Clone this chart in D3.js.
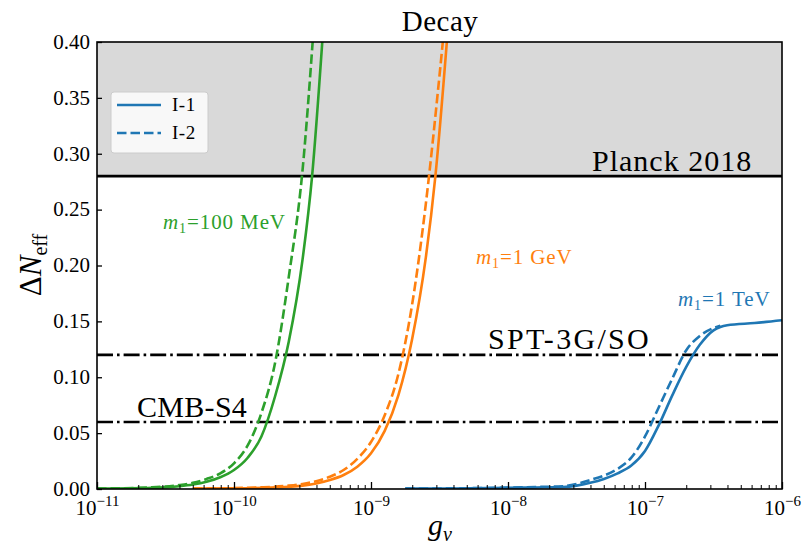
<!DOCTYPE html>
<html>
<head>
<meta charset="utf-8">
<script src="https://cdn.jsdelivr.net/npm/d3@7/dist/d3.min.js"></script>
<style>
  html, body { margin: 0; padding: 0; background: #fff; }
  svg { display: block; }
  text { font-family: "Liberation Serif", "Times New Roman", serif; fill: #000; }
</style>
</head>
<body>
<svg id="chart" width="805" height="549"></svg>
<script>
// log10(g_nu) sample points and Delta N_eff values for each mass / scenario
const greenLogG   = [-11.0, -10.6, -10.4, -10.3, -10.2, -10.1, -10.0, -9.9, -9.8, -9.7, -9.6, -9.5, -9.43, -9.35];
const greenI1     = [0.0003, 0.001, 0.0025, 0.004, 0.0065, 0.0105, 0.017, 0.028, 0.047, 0.083, 0.132, 0.205, 0.28, 0.41];
const greenLogG2  = [-11.0, -10.6, -10.4, -10.3, -10.2, -10.1, -10.0, -9.9, -9.8, -9.7, -9.6, -9.5, -9.42];
const greenI2     = [0.0004, 0.0015, 0.0035, 0.0055, 0.009, 0.014, 0.023, 0.039, 0.068, 0.113, 0.19, 0.285, 0.41];

const orangeLogG  = [-10.3, -10.0, -9.8, -9.6, -9.5, -9.4, -9.3, -9.2, -9.1, -9.0, -8.9, -8.8, -8.7, -8.6, -8.53, -8.44];
const orangeI1    = [0.0003, 0.0006, 0.001, 0.002, 0.003, 0.005, 0.008, 0.0125, 0.02, 0.032, 0.052, 0.084, 0.134, 0.207, 0.28, 0.41];
const orangeLogG2 = [-10.3, -10.0, -9.8, -9.6, -9.5, -9.4, -9.3, -9.2, -9.1, -9.0, -8.9, -8.8, -8.7, -8.6, -8.5, -8.46];
const orangeI2    = [0.0004, 0.0008, 0.0015, 0.003, 0.0045, 0.007, 0.011, 0.017, 0.027, 0.042, 0.066, 0.103, 0.165, 0.255, 0.37, 0.42];

const blueLogG    = [-8.75, -8.4, -8.0, -7.8, -7.6, -7.5, -7.4, -7.3, -7.2, -7.1, -7.0, -6.9, -6.8, -6.7, -6.6, -6.5, -6.45, -6.4, -6.2, -6.0];
const blueI1      = [0.0003, 0.0005, 0.001, 0.0014, 0.0018, 0.003, 0.0055, 0.009, 0.014, 0.021, 0.034, 0.057, 0.084, 0.109, 0.129, 0.142, 0.145, 0.1465, 0.1485, 0.151];
const blueLogG2   = [-8.75, -8.4, -8.0, -7.8, -7.6, -7.5, -7.4, -7.3, -7.2, -7.1, -7.0, -6.9, -6.8, -6.7, -6.6, -6.5, -6.45];
const blueI2      = [0.0003, 0.0006, 0.0012, 0.0018, 0.0025, 0.0045, 0.008, 0.012, 0.018, 0.028, 0.047, 0.073, 0.099, 0.124, 0.137, 0.144, 0.146];

// Observational limits
const planckLimit = 0.28;
const futureLimits = [0.12, 0.06];
const futureNames = ["SPT-3G/SO", "CMB-S4"];

// Axis ticks
const xMajorExp = [-11, -10, -9, -8, -7, -6];
const yTicks = [0.00, 0.05, 0.10, 0.15, 0.20, 0.25, 0.30, 0.35, 0.40];

const colors = { green: "#2ca02c", orange: "#ff7f0e", blue: "#1f77b4" };

const svg = d3.select("#chart");
const plotL = 97, plotR = 782, plotT = 42, plotB = 489;

const x = d3.scaleLog().domain([1e-11, 1e-6]).range([plotL, plotR]);
const y = d3.scaleLinear().domain([0, 0.4]).range([plotB, plotT]);

svg.append("defs").append("clipPath").attr("id", "plotclip")
  .append("rect").attr("x", plotL).attr("y", plotT).attr("width", plotR - plotL).attr("height", plotB - plotT);

// Excluded region above Planck 2018
svg.append("rect")
  .attr("x", plotL).attr("y", y(0.4))
  .attr("width", plotR - plotL).attr("height", y(planckLimit) - y(0.4))
  .attr("fill", "#d9d9d9");

svg.append("line")
  .attr("x1", plotL).attr("x2", plotR)
  .attr("y1", y(planckLimit)).attr("y2", y(planckLimit))
  .attr("stroke", "#000").attr("stroke-width", 2.6);

// Future sensitivity lines (dash-dot)
futureLimits.forEach(v => {
  svg.append("line")
    .attr("x1", plotL).attr("x2", plotR)
    .attr("y1", y(v)).attr("y2", y(v))
    .attr("stroke", "#000").attr("stroke-width", 2.6)
    .attr("stroke-dasharray", "16,4,2.6,4");
});

// Curves
const line = d3.line().x(d => x(Math.pow(10, d[0]))).y(d => y(d[1])).curve(d3.curveMonotoneX);
const curves = svg.append("g").attr("clip-path", "url(#plotclip)");
function drawCurve(lg, vals, color, dashed) {
  curves.append("path")
    .datum(lg.map((g, i) => [g, vals[i]]))
    .attr("d", line)
    .attr("fill", "none")
    .attr("stroke", color)
    .attr("stroke-width", 2.6)
    .attr("stroke-dasharray", dashed ? "9.5,4" : null);
}
drawCurve(greenLogG, greenI1, colors.green, false);
drawCurve(greenLogG2, greenI2, colors.green, true);
drawCurve(orangeLogG, orangeI1, colors.orange, false);
drawCurve(orangeLogG2, orangeI2, colors.orange, true);
drawCurve(blueLogG, blueI1, colors.blue, false);
drawCurve(blueLogG2, blueI2, colors.blue, true);

// Axes
const xMinor = [];
xMajorExp.slice(0, -1).forEach(e => { for (let k = 2; k <= 9; k++) xMinor.push(k * Math.pow(10, e)); });

const xAxis = svg.append("g").attr("transform", `translate(0,${plotB})`)
  .call(d3.axisBottom(x).tickValues(xMajorExp.map(e => Math.pow(10, e))).tickSizeInner(-7).tickSizeOuter(0).tickFormat(""));
xAxis.select(".domain").remove();
xAxis.selectAll(".tick line").attr("stroke", "#000").attr("stroke-width", 1.3);

const xAxisMinor = svg.append("g").attr("transform", `translate(0,${plotB})`)
  .call(d3.axisBottom(x).tickValues(xMinor).tickSizeInner(-4).tickSizeOuter(0).tickFormat(""));
xAxisMinor.select(".domain").remove();
xAxisMinor.selectAll(".tick line").attr("stroke", "#000").attr("stroke-width", 1);

xAxis.selectAll(".tick").each(function(d) {
  const e = Math.round(Math.log10(d));
  const t = d3.select(this).append("text")
    .attr("y", 26).attr("text-anchor", "middle")
    .style("font-size", "21px");
  t.append("tspan").text("10");
  t.append("tspan").attr("dy", -9).style("font-size", "15px").text("\u2212" + Math.abs(e));
});

const yAxis = svg.append("g").attr("transform", `translate(${plotL},0)`)
  .call(d3.axisLeft(y).tickValues(yTicks).tickSizeInner(-5).tickSizeOuter(0).tickFormat(d3.format(".2f")));
yAxis.select(".domain").remove();
yAxis.selectAll(".tick line").attr("stroke", "#000").attr("stroke-width", 1.3);
yAxis.selectAll(".tick text")
  .attr("x", -7).attr("dy", "0.3em")
  .style("font-size", "21px").style("font-family", "Liberation Serif, serif");

// Frame
svg.append("rect")
  .attr("x", plotL).attr("y", plotT).attr("width", plotR - plotL).attr("height", plotB - plotT)
  .attr("fill", "none").attr("stroke", "#000").attr("stroke-width", 1.6);

// Annotations
svg.append("text").attr("x", 440).attr("y", 31).attr("text-anchor", "middle")
  .style("font-size", "29px").style("letter-spacing", "0.5px").text("Decay");
svg.append("text").attr("x", 592).attr("y", y(planckLimit) - 5)
  .style("font-size", "30px").style("letter-spacing", "1px").text("Planck 2018");
svg.append("text").attr("x", 488).attr("y", y(futureLimits[0]) - 6)
  .style("font-size", "30px").style("letter-spacing", "2.3px").text(futureNames[0]);
svg.append("text").attr("x", 137).attr("y", y(futureLimits[1]) - 5)
  .style("font-size", "30px").style("letter-spacing", "0.3px").text(futureNames[1]);

function massLabel(px, py, color, massText) {
  const t = svg.append("text").attr("x", px).attr("y", py)
    .style("font-size", "21px").style("letter-spacing", "0.9px").style("fill", color);
  t.append("tspan").style("font-style", "italic").text("m");
  t.append("tspan").attr("dy", 4).style("font-size", "14px").text("1");
  t.append("tspan").attr("dy", -4).text("=" + massText);
}
massLabel(163, 229, colors.green, "100 MeV");
massLabel(476, 264, colors.orange, "1 GeV");
massLabel(678, 306, colors.blue, "1 TeV");

// Axis titles
const yl = svg.append("text")
  .attr("transform", `translate(41,265) rotate(-90)`)
  .attr("text-anchor", "middle").style("font-size", "31px");
yl.append("tspan").text("\u0394");
yl.append("tspan").style("font-style", "italic").text("N");
yl.append("tspan").attr("dy", 6).style("font-size", "20px").text("eff");

const xl = svg.append("text").attr("x", 440).attr("y", 535).attr("text-anchor", "middle").style("font-size", "30px");
xl.append("tspan").style("font-style", "italic").text("g");
xl.append("tspan").attr("dy", 6).style("font-size", "20px").style("font-style", "italic").text("\u03bd");

// Legend
const lg = svg.append("g");
lg.append("rect").attr("x", 111).attr("y", 92).attr("width", 97).attr("height", 61).attr("rx", 3)
  .attr("fill", "#ffffff").attr("fill-opacity", 0.8).attr("stroke", "#cccccc").attr("stroke-width", 1);
[["I-1", null, 105], ["I-2", "9.5,4", 133]].forEach(([name, dash, ly]) => {
  lg.append("line").attr("x1", 117).attr("x2", 161).attr("y1", ly).attr("y2", ly)
    .attr("stroke", colors.blue).attr("stroke-width", 2.6).attr("stroke-dasharray", dash);
  lg.append("text").attr("x", 172).attr("y", ly + 6).style("font-size", "19px").style("letter-spacing", "0.5px").text(name);
});
</script>
</body>
</html>
